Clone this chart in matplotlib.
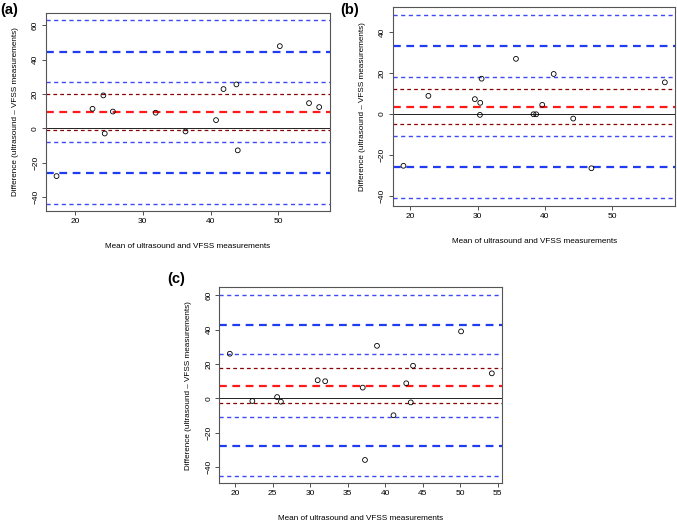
import matplotlib
matplotlib.use("Agg")
import matplotlib.pyplot as plt

plt.rcParams["font.family"] = ["Liberation Sans", "DejaVu Sans"]

# (a) Bland-Altman points and reference lines
a_mean = [17.3, 22.6, 24.2, 24.4, 25.6, 31.9, 36.3, 40.8, 41.9, 43.8, 44.0, 50.2, 54.5, 56.0]
a_diff = [-27.9, 11.3, 19.1, -3.1, 9.7, 9.0, -1.9, 4.7, 22.8, 25.5, -12.9, 47.8, 14.6, 12.3]
a_lines = [62.8, 44.5, 26.7, 19.7, 9.2, -1.2, -8.0, -26.0, -43.9]

# (b)
b_mean = [19.0, 22.7, 29.6, 30.4, 30.35, 30.6, 35.7, 38.3, 38.7, 39.6, 41.3, 44.2, 46.9, 57.8]
b_diff = [-25.4, 8.8, 7.2, 5.4, -0.5, 17.2, 26.9, -0.2, -0.2, 4.4, 19.5, -2.3, -26.6, 15.4]
b_lines = [48.5, 33.3, 18.0, 12.1, 3.5, -5.2, -11.0, -26.2, -41.3]

# (c)
c_mean = [19.3, 22.3, 25.6, 26.1, 31.0, 32.0, 37.0, 37.3, 38.9, 41.1, 42.8, 43.4, 43.7, 50.1, 54.2]
c_diff = [26.0, -1.5, 0.8, -1.9, 10.6, 10.0, 6.3, -35.8, 30.6, -9.8, 8.8, -2.3, 19.0, 39.0, 14.6]
c_lines = [60.4, 42.9, 25.6, 17.7, 7.5, -2.5, -10.6, -27.9, -45.2]

# line styles: upper CI, upper LoA, lower CI, mean CI up, mean, mean CI low, ...
styles = [
    ("#3b4cf5", 1.0, (0, (3, 2.5))),
    ("#1f3cf0", 1.6, (0, (3.5, 2.5))),
    ("#3b4cf5", 1.0, (0, (3, 2.5))),
    ("#8b0000", 0.9, (0, (3, 2.5))),
    ("#ff1a1a", 1.6, (0, (3.5, 2.5))),
    ("#8b0000", 0.9, (0, (3, 2.5))),
    ("#3b4cf5", 1.0, (0, (3, 2.5))),
    ("#1f3cf0", 1.6, (0, (3.5, 2.5))),
    ("#3b4cf5", 1.0, (0, (3, 2.5))),
]

fig = plt.figure(figsize=(6.77, 5.22), dpi=100)


def bland_altman(rect, x, y, lines, xticks, yticks, tag, tag_pos):
    ax = fig.add_axes(rect)
    ax.axhline(0, color="#222222", lw=0.7, zorder=1)
    for val, (col, lw, ls) in zip(lines, styles):
        ax.axhline(val, color=col, lw=lw, linestyle=ls, zorder=2)
    ax.scatter(x, y, s=12, facecolors="none", edgecolors="black", linewidths=0.6, zorder=3)

    xr = max(x) - min(x)
    ax.set_xlim(min(x) - 0.04 * xr, max(x) + 0.04 * xr)
    lo, hi = min(lines), max(lines)
    yr = hi - lo
    ax.set_ylim(lo - 0.04 * yr, hi + 0.04 * yr)

    ax.set_xticks(xticks)
    ax.set_yticks(yticks)
    ax.tick_params(labelsize=6, length=3, width=0.6, color="#333333", pad=2)
    for lab in ax.get_yticklabels():
        lab.set_rotation(90)
        lab.set_va("center")
    for sp in ax.spines.values():
        sp.set_color("#555555")
        sp.set_linewidth(0.8)
    ax.set_xlabel("Mean of ultrasound and VFSS measurements", fontsize=5.9, labelpad=13)
    ax.set_ylabel("Difference (ultrasound \u2013 VFSS measurements)", fontsize=5.9, labelpad=9.5)
    fig.text(tag_pos[0], tag_pos[1], tag, fontsize=10.5, fontweight="bold", va="top", ha="left")
    return ax


bland_altman([0.068, 0.596, 0.419, 0.379], a_mean, a_diff, a_lines,
             [20, 30, 40, 50], [-40, -20, 0, 20, 40, 60], "(a)", (0.001, 0.995))
bland_altman([0.5805, 0.606, 0.417, 0.380], b_mean, b_diff, b_lines,
             [20, 30, 40, 50], [-40, -20, 0, 20, 40], "(b)", (0.503, 0.995))
bland_altman([0.324, 0.074, 0.418, 0.3755], c_mean, c_diff, c_lines,
             [20, 25, 30, 35, 40, 45, 50, 55], [-40, -20, 0, 20, 40, 60], "(c)", (0.247, 0.479))

fig.savefig("out.png", dpi=100)
